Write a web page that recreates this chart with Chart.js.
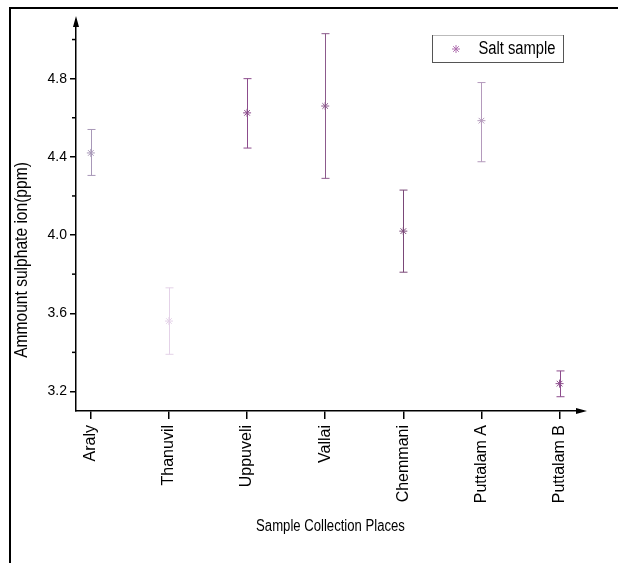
<!DOCTYPE html>
<html>
<head>
<meta charset="utf-8">
<script src="https://cdn.jsdelivr.net/npm/chart.js@4.4.0/dist/chart.umd.min.js"></script>
<style>
  html, body { margin: 0; padding: 0; background: #fff; }
  #wrap { position: relative; width: 618px; height: 563px; overflow: hidden; }
  #frame { position: absolute; left: 9px; top: 7px; right: -5px; bottom: -5px;
           border-top: 2px solid #000; border-left: 2px solid #000; }
  canvas { position: absolute; left: 0; top: 0; }
</style>
</head>
<body>
<div id="wrap">
  <canvas id="chart" width="618" height="563"></canvas>
  <div id="frame"></div>
</div>
<script>
// data
const places = ['Araly', 'Thanuvil', 'Uppuveli', 'Vallai', 'Chemmani', 'Puttalam A', 'Puttalam B'];
const means = [4.42, 3.56, 4.625, 4.66, 4.02, 4.585, 3.24];
const errLow = [4.305, 3.39, 4.445, 4.29, 3.81, 4.375, 3.173];
const errHigh = [4.54, 3.73, 4.80, 5.03, 4.23, 4.78, 3.305];
const yTicks = [3.2, 3.6, 4.0, 4.4, 4.8];
const yMinorTicks = [3.4, 3.8, 4.2, 4.6, 5.0];

// the original bars come out in different shades of purple
const barColors = ['#a898b8', '#e4d2e8', '#8c4c8c', '#8c5a8c', '#7a4878', '#b49abc', '#8c4c8c'];

const family = 'Liberation Sans, Arial, sans-serif';

// no narrow font installed, so squeeze the plain one for the titles
function narrowText(ctx, text, x, y, size, rotate) {
    ctx.save();
    ctx.translate(x, y);
    if (rotate) ctx.rotate(-Math.PI / 2);
    ctx.scale(0.82, 1);
    ctx.font = size + 'px ' + family;
    ctx.textAlign = 'center';
    ctx.textBaseline = 'middle';
    ctx.fillStyle = '#000';
    ctx.fillText(text, 0, 0);
    ctx.restore();
}

// error bars drawn under the markers
const errorBars = {
    id: 'errorBars',
    beforeDatasetsDraw(chart) {
        const { ctx, scales: { x, y } } = chart;
        ctx.save();
        ctx.lineWidth = 1;
        places.forEach((p, i) => {
            const px = Math.round(x.getPixelForValue(i)) + 0.5;
            const top = y.getPixelForValue(errHigh[i]);
            const bot = y.getPixelForValue(errLow[i]);
            ctx.strokeStyle = barColors[i];
            ctx.beginPath();
            ctx.moveTo(px, top);
            ctx.lineTo(px, bot);
            ctx.moveTo(px - 4, top);
            ctx.lineTo(px + 4, top);
            ctx.moveTo(px - 4, bot);
            ctx.lineTo(px + 4, bot);
            ctx.stroke();
        });
        ctx.restore();
    }
};

// minor ticks, axis arrows, titles and legend box
const extras = {
    id: 'extras',
    afterDraw(chart) {
        const { ctx, chartArea: area, scales: { y } } = chart;
        ctx.save();
        ctx.strokeStyle = '#000';
        ctx.fillStyle = '#000';
        ctx.lineWidth = 1.5;
        yMinorTicks.forEach(v => {
            const py = y.getPixelForValue(v);
            ctx.beginPath();
            ctx.moveTo(area.left - 4, py);
            ctx.lineTo(area.left, py);
            ctx.stroke();
        });

        // arrow heads
        ctx.beginPath();
        ctx.moveTo(area.left, area.top - 4);
        ctx.lineTo(area.left - 3, area.top + 7);
        ctx.lineTo(area.left + 3, area.top + 7);
        ctx.closePath();
        ctx.fill();
        ctx.beginPath();
        ctx.moveTo(area.right + 4, area.bottom);
        ctx.lineTo(area.right - 7, area.bottom - 3);
        ctx.lineTo(area.right - 7, area.bottom + 3);
        ctx.closePath();
        ctx.fill();

        narrowText(ctx, 'Ammount sulphate ion(ppm)', 22, 260, 19, true);
        narrowText(ctx, 'Sample Collection Places', (area.left + area.right) / 2 + 1, 527, 16, false);

        // legend
        ctx.lineWidth = 1;
        ctx.strokeStyle = '#555';
        ctx.strokeRect(432.5, 35.5, 131, 27);
        ctx.strokeStyle = '#bbb';
        ctx.beginPath();
        ctx.moveTo(433, 35.5);
        ctx.lineTo(563, 35.5);
        ctx.stroke();
        ctx.strokeStyle = '#b070b0';
        Chart.helpers.drawPoint(ctx, {
            pointStyle: 'star', radius: 4, borderWidth: 1
        }, 456, 49);
        ctx.restore();
        narrowText(ctx, 'Salt sample', 517, 49, 18, false);
    }
};

new Chart(document.getElementById('chart'), {
    type: 'scatter',
    data: {
        datasets: [{
            label: 'Salt sample',
            data: places.map((p, i) => ({ x: i, y: means[i] })),
            pointStyle: 'star',
            pointRadius: 4,
            pointBorderWidth: 1,
            pointBorderColor: barColors,
            pointBackgroundColor: barColors
        }]
    },
    options: {
        responsive: false,
        animation: false,
        layout: { padding: { left: 0, top: 20, right: 35, bottom: 0 } },
        plugins: {
            legend: { display: false },
            tooltip: { enabled: false }
        },
        scales: {
            x: {
                type: 'linear',
                min: -0.19,
                max: 6.3,
                afterBuildTicks: s => { s.ticks = places.map((p, i) => ({ value: i })); },
                afterFit: s => { s.height = 152; },
                ticks: {
                    callback: v => places[v],
                    minRotation: 90,
                    maxRotation: 90,
                    autoSkip: false,
                    padding: 6,
                    color: '#000',
                    font: { family: family, size: 16 }
                },
                grid: { drawOnChartArea: false, tickLength: 8, color: '#000', lineWidth: 1.5 },
                border: { color: '#000', width: 1.5 }
            },
            y: {
                min: 3.1,
                max: 5.1,
                afterBuildTicks: s => { s.ticks = yTicks.map(v => ({ value: v })); },
                afterFit: s => { s.width = 76; },
                ticks: {
                    callback: v => v.toFixed(1),
                    padding: 3,
                    color: '#000',
                    font: { family: family, size: 14 }
                },
                grid: { drawOnChartArea: false, tickLength: 6, color: '#000', lineWidth: 1.5 },
                border: { color: '#000', width: 1.5 }
            }
        }
    },
    plugins: [errorBars, extras]
});
</script>
</body>
</html>
